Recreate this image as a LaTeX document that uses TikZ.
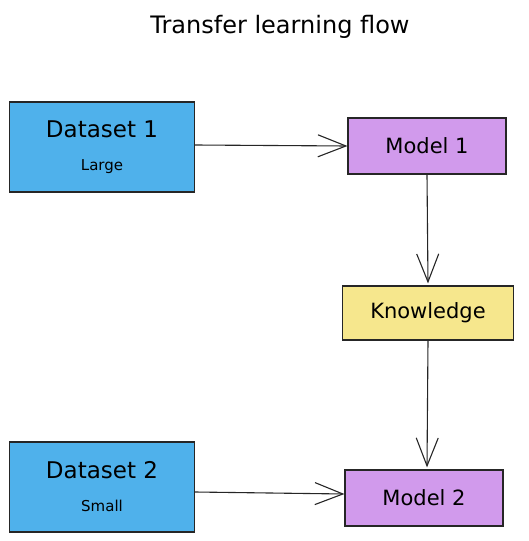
\documentclass[tikz,border=0pt]{standalone}
\usepackage{fontspec}
\setmainfont{DejaVu Sans}
\usetikzlibrary{arrows.meta}
\definecolor{dsblue}{HTML}{4FB1EB}
\definecolor{mdpurple}{HTML}{D19AEC}
\definecolor{knyellow}{HTML}{F6E78D}
\tikzset{
  box/.style={draw=black!85,line width=1.2pt,inner sep=0pt,align=center},
  dsbox/.style={box,fill=dsblue,minimum width=185pt,minimum height=90pt},
  mdbox/.style={box,fill=mdpurple,minimum width=158pt,minimum height=56pt},
  knbox/.style={box,fill=knyellow,minimum width=171pt,minimum height=54pt},
  flow/.style={draw=black!85,line width=1.1pt,-{Straight Barb[length=28pt,width=22pt,line width=1.1pt]}}
}
\begin{document}
\begin{tikzpicture}[x=1pt,y=-1pt]
  \useasboundingbox (0,0) rectangle (528,541);
  \node (title) at (280,27) {\fontsize{24}{28}\selectfont Transfer learning flow};
  \node[dsbox] (ds1) at (102,147) {\fontsize{23}{28}\selectfont Dataset 1\\[21pt]\fontsize{15}{18}\selectfont Large};
  \node[dsbox] (ds2) at (102,487) {\fontsize{23}{28}\selectfont Dataset 2\\[21pt]\fontsize{15}{18}\selectfont Small};
  \node[mdbox] (m1) at (427,146) {\fontsize{21}{25}\selectfont Model 1};
  \node[knbox] (kn) at (428,313) {\fontsize{21}{25}\selectfont Knowledge};
  \node[mdbox] (m2) at (424,498) {\fontsize{21}{25}\selectfont Model 2};
  \draw[flow] ([yshift=2pt]ds1.east) -- (m1.west);
  \draw[flow] (m1.south) -- ([yshift=2pt]kn.north);
  \draw[flow] (kn.south) -- ([xshift=3pt,yshift=2pt]m2.north);
  \draw[flow] ([yshift=-5pt]ds2.east) -- ([yshift=4pt]m2.west);
\end{tikzpicture}
\end{document}
